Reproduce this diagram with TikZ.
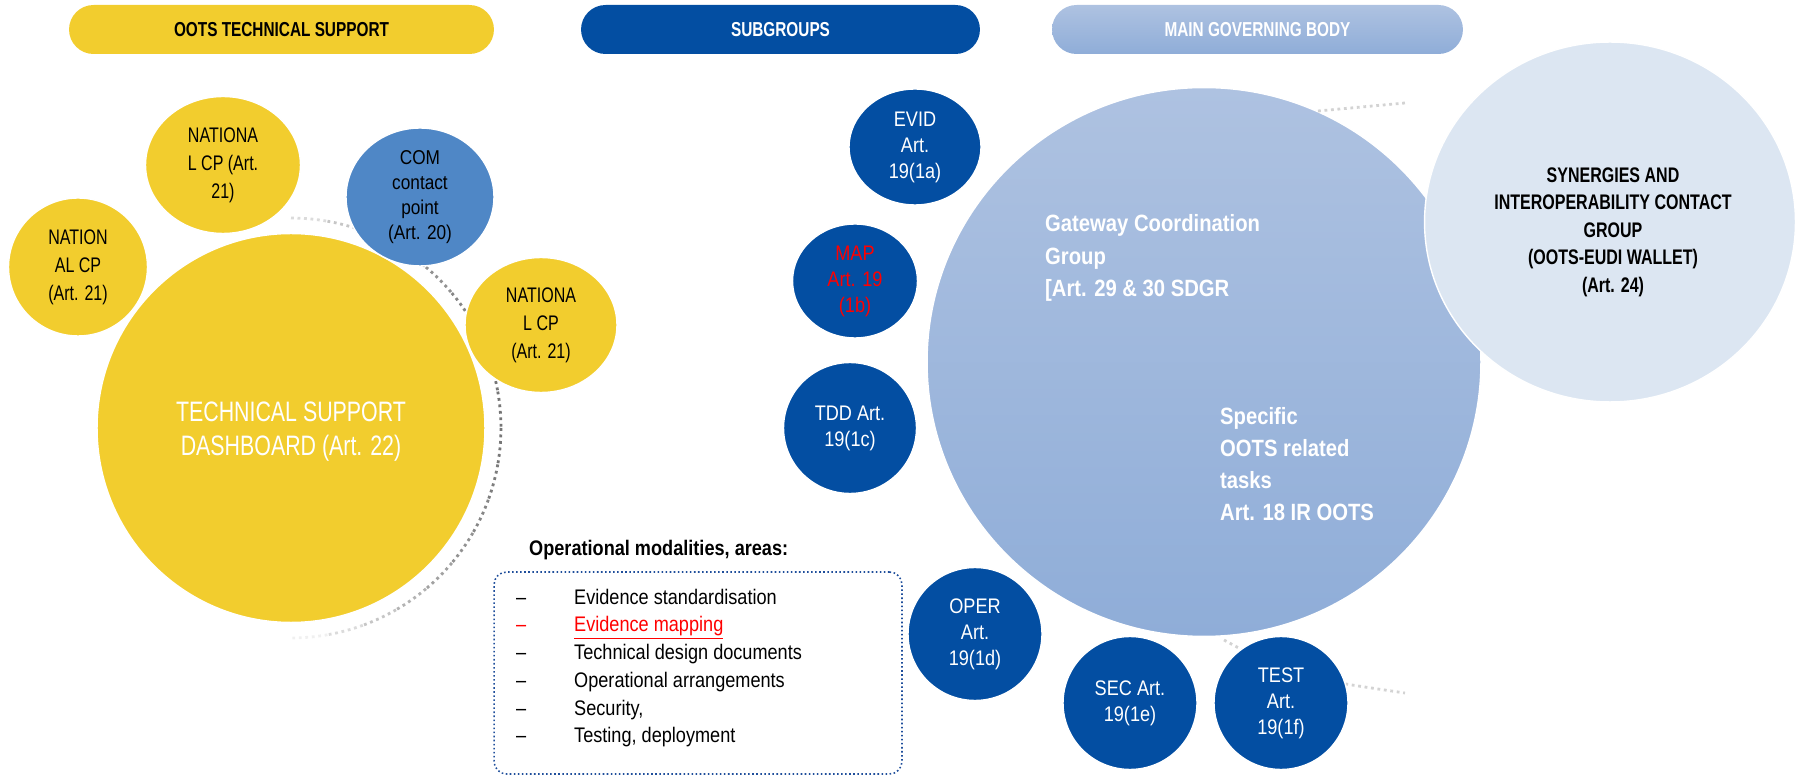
\documentclass[tikz,border=0pt]{standalone}
\usepackage{fontspec}
\setmainfont{Liberation Sans}[FakeStretch=0.86]
\newfontfamily\narrowfont{Liberation Sans}[FakeStretch=0.76]
\usepackage{tikz}
\usetikzlibrary{shapes.geometric}
\definecolor{ootsyellow}{RGB}{242,205,46}
\definecolor{subblue}{RGB}{3,78,162}
\definecolor{comblue}{RGB}{79,135,198}
\definecolor{govtop}{RGB}{174,194,225}
\definecolor{govbottom}{RGB}{143,173,216}
\definecolor{synblue}{RGB}{220,230,242}
\definecolor{boxblue}{RGB}{31,78,155}
\definecolor{dotgray}{RGB}{110,110,110}

\begin{document}
\begin{tikzpicture}
[x=0.02cm, y=-0.02cm,
bubble/.style={ellipse, inner sep=0pt, align=center, draw=white, line width=0.8pt},
pill/.style={rectangle, rounded corners=0.49cm, minimum height=0.98cm,
font=\narrowfont\bfseries\fontsize{11.5}{14}\selectfont},
cp/.style={bubble, fill=ootsyellow, font=\narrowfont\fontsize{12}{15.9}\selectfont},
subgroup/.style={bubble, fill=subblue, text=white, minimum width=2.68cm,
minimum height=2.66cm, font=\fontsize{12}{14.8}\selectfont},
ringdots/.style={dotgray, line width=1.6pt, dash pattern=on 1.6pt off 2.1pt}]
\useasboundingbox (0,0) rectangle (1799,776);

\node[pill, fill=ootsyellow, minimum width=8.5cm] (hsupport) at (281.5,29.5) {OOTS TECHNICAL SUPPORT};
\node[pill, fill=subblue, text=white, minimum width=7.98cm] (hsub) at (780.5,29.5) {SUBGROUPS};
\node[pill, top color=govtop, bottom color=govbottom, text=white, minimum width=8.22cm] (hgov) at (1257.5,29.5) {MAIN GOVERNING BODY};

\node[bubble, fill=ootsyellow, text=white, minimum width=7.76cm, minimum height=7.78cm,
font=\narrowfont\fontsize{16}{19.3}\selectfont] (tsd) at (291,428) {\\[-4pt]TECHNICAL SUPPORT\\DASHBOARD (Art. 22)};
\foreach \a in {90,80,...,-80}{
\pgfmathsetmacro\op{0.1+0.85*cos(\a-10)}
\draw[ringdots, draw opacity=\op] (tsd.center) ++(\a:4.2cm) arc[start angle=\a, end angle=\a-10, radius=4.2cm];
}

\node[cp, minimum width=3.1cm, minimum height=2.74cm] (cptop) at (223,165) {NATIONA\\L CP (Art.\\21)};
\node[cp, minimum width=2.78cm, minimum height=2.76cm] (cpleft) at (78,267) {NATION\\AL CP\\(Art. 21)};
\node[bubble, fill=comblue, minimum width=2.96cm, minimum height=2.76cm,
font=\fontsize{11.4}{14.2}\selectfont] (com) at (420,197) {COM\\contact\\point\\(Art. 20)};
\node[cp, minimum width=3.04cm, minimum height=2.7cm] (cpright) at (541,325) {NATIONA\\L CP\\(Art. 21)};

\node[anchor=west, font=\bfseries\fontsize{12}{14}\selectfont] (modalities) at (523,550) {Operational modalities, areas:};
\node[draw=boxblue, line width=0.9pt, dash pattern=on 0.9pt off 1.4pt, rounded corners=0.25cm,
minimum width=8.16cm, minimum height=4.04cm] (areas) at (698,673) {};
\node[anchor=west, align=left, font=\fontsize{12}{15.8}\selectfont] (items) at (510,668) {
\makebox[1.16cm][l]{--}Evidence standardisation\\
\textcolor{red}{\makebox[1.16cm][l]{--}\underline{Evidence mapping}}\\
\makebox[1.16cm][l]{--}Technical design documents\\
\makebox[1.16cm][l]{--}Operational arrangements\\
\makebox[1.16cm][l]{--}Security,\\
\makebox[1.16cm][l]{--}Testing, deployment};

\node[bubble, top color=govtop, bottom color=govbottom, minimum width=11.08cm, minimum height=10.98cm] (gcg) at (1204,362) {};
\draw[ringdots, draw opacity=0.3] (1318,111) -- (1405,103);
\draw[ringdots, draw opacity=0.3] (1224,640) .. controls (1290,676) .. (1405,693);

\node[subgroup, minimum width=2.64cm, minimum height=2.32cm] (evid) at (915,147) {EVID\\Art.\\19(1a)};
\node[subgroup, minimum width=2.5cm, minimum height=2.28cm, text=red] (map) at (855,281) {MAP\\Art. 19\\(1b)};
\node[subgroup, minimum width=2.66cm, minimum height=2.62cm] (tdd) at (850,428) {TDD Art.\\19(1c)};
\node[subgroup] (oper) at (975,634) {OPER\\Art.\\19(1d)};
\node[subgroup] (sec) at (1130,703) {SEC Art.\\19(1e)};
\node[subgroup] (test) at (1281,703) {TEST\\Art.\\19(1f)};

\node[bubble, fill=synblue, minimum width=7.42cm, minimum height=7.2cm] (sic) at (1610,222) {};
\node[align=center, font=\narrowfont\bfseries\fontsize{12}{15.7}\selectfont] (sictext) at (1613,232)
{SYNERGIES AND\\INTEROPERABILITY CONTACT\\GROUP\\(OOTS-EUDI WALLET)\\(Art. 24)};

\node[anchor=west, align=left, text=white, font=\bfseries\fontsize{13.4}{18.5}\selectfont] (gcgname) at (1039,258)
{Gateway Coordination\\Group\\{}[Art. 29 \& 30 SDGR};
\node[anchor=west, align=left, text=white, font=\bfseries\fontsize{13.4}{18.3}\selectfont] (tasks) at (1214,464)
{Specific\\OOTS related\\tasks\\Art. 18 IR OOTS};
\end{tikzpicture}
\end{document}
